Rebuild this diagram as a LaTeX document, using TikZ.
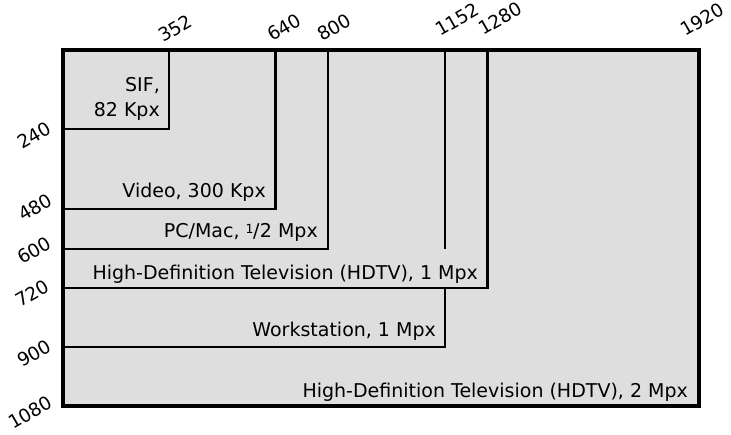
\documentclass[tikz,border=0pt]{standalone}
\usepackage{fontspec}
\setmainfont{DejaVu Sans}
\definecolor{panel}{RGB}{222,222,222}
\tikzset{
  frame/.style={draw=black, line width=3.2bp, fill=panel},
  edge/.style={draw=black, line width=2.5bp},
  lab/.style={inner sep=0pt, anchor=base east, font=\fontsize{19bp}{25bp}\selectfont, align=right},
  topnum/.style={inner sep=0pt, anchor=base west, rotate=30, font=\fontsize{18.5bp}{20bp}\selectfont},
  leftnum/.style={inner sep=0pt, anchor=base west, rotate=30, font=\fontsize{18.5bp}{20bp}\selectfont}
}
\begin{document}
\begin{tikzpicture}[x=1bp, y=-1bp]
\useasboundingbox (0,0) rectangle (731,435);
% outer frame
\draw[frame] (63,50) rectangle (699,406);
% region boundaries
\draw[edge] (169,50) -- (169,129) -- (63,129);
\draw[edge] (275.5,50) -- (275.5,209) -- (63,209);
\draw[edge] (328,50) -- (328,249) -- (63,249);
\draw[edge] (445,50) -- (445,249);
\draw[edge] (487.5,50) -- (487.5,288) -- (63,288);
\draw[edge] (445,288) -- (445,347) -- (63,347);
% region labels
\node[lab] (sif) at (160,117) {SIF,\\82 Kpx};
\node[lab] (video) at (266,198) {Video, 300 Kpx};
\node[lab] (pcmac) at (318,238) {PC/Mac, {\fontsize{12.5bp}{12bp}\selectfont\raisebox{0.6ex}{1}}\kern-0.5bp/\kern0.5bp2 Mpx};
\node[lab] (hdtv1) at (478,280) {High-Definition Television (HDTV), 1 Mpx};
\node[lab] (work) at (436,337) {Workstation, 1 Mpx};
\node[lab] (hdtv2) at (688,397) {High-Definition Television (HDTV), 2 Mpx};
% top numbers
\node[topnum] (w352) at (163,43) {352};
\node[topnum] (w640) at (272,42) {640};
\node[topnum] (w800) at (322,42) {800};
\node[topnum] (w1152) at (440,37) {1152};
\node[topnum] (w1280) at (483,36) {1280};
\node[topnum] (w1920) at (685,37) {1920};
% left numbers
\node[leftnum] (h240) at (22,150) {240};
\node[leftnum] (h480) at (23,222) {480};
\node[leftnum] (h600) at (22,265) {600};
\node[leftnum] (h720) at (20,308) {720};
\node[leftnum] (h900) at (22,368) {900};
\node[leftnum] (h1080) at (13,430) {1080};
\end{tikzpicture}
\end{document}
